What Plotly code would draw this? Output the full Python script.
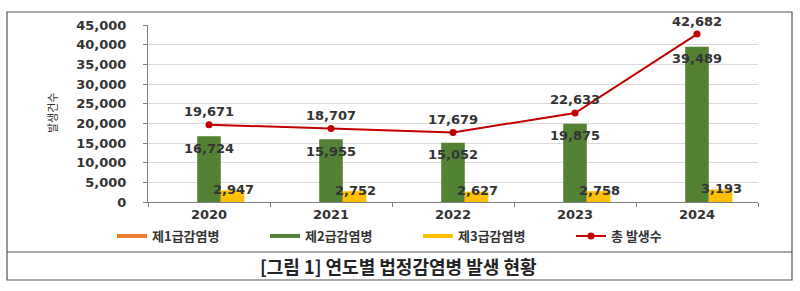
import plotly.graph_objects as go

years = ["2020", "2021", "2022", "2023", "2024"]
class1 = [0, 0, 0, 0, 0]
class2 = [16724, 15955, 15052, 19875, 39489]
class3 = [2947, 2752, 2627, 2758, 3193]
total = [19671, 18707, 17679, 22633, 42682]
series_names = ["제1급감염병", "제2급감염병", "제3급감염병", "총 발생수"]
y_title = "발생건수"
caption = "[그림 1] 연도별 법정감염병 발생 현황"
y_ticks = [0, 5000, 10000, 15000, 20000, 25000, 30000, 35000, 40000, 45000]

C_ORANGE = "#ED7D31"
C_GREEN = "#548235"
C_YELLOW = "#FFC000"
C_RED = "#C00000"
TXT = "#333333"
NUM_FONT = dict(family="DejaVu Sans", size=13, color=TXT, weight="bold")
KR = "Noto Sans CJK KR"

W, H = 800, 291
L, R, T, B = 148, 42, 25, 89
ph = H - T - B
pw = W - L - R


def px(xp):
    return (xp - L) / pw


def py(yp):
    return (H - B - yp) / ph


fig = go.Figure()
for name, vals, col in [(series_names[0], class1, C_ORANGE),
                        (series_names[1], class2, C_GREEN),
                        (series_names[2], class3, C_YELLOW)]:
    fig.add_trace(go.Bar(x=years, y=vals, marker=dict(color=col, line=dict(width=0)),
                         name=name, showlegend=False))
fig.add_trace(go.Scatter(x=years, y=total, mode="lines+markers", name=series_names[3],
                         line=dict(color=C_RED, width=2), marker=dict(color=C_RED, size=7),
                         showlegend=False))

# legend entries (line-style swatches like the original)
for name, col, mode in [(series_names[0], C_ORANGE, "lines"),
                        (series_names[1], C_GREEN, "lines"),
                        (series_names[2], C_YELLOW, "lines"),
                        (series_names[3], C_RED, "lines+markers")]:
    fig.add_trace(go.Scatter(x=[years[0]], y=[None], mode=mode, name=name,
                             line=dict(color=col, width=4 if mode == "lines" else 2),
                             marker=dict(color=col, size=7), showlegend=True))

ann = []
for i, v in enumerate(class2):
    ann.append(dict(x=i, y=v, text=f"{v:,}", showarrow=False, yshift=-12,
                    xref="x", yref="y", font=NUM_FONT))
for i, v in enumerate(class3):
    ann.append(dict(x=i, y=v, text=f"{v:,}", showarrow=False, xshift=24, yshift=1,
                    xref="x", yref="y", font=NUM_FONT))
for i, v in enumerate(total):
    ann.append(dict(x=i, y=v, text=f"{v:,}", showarrow=False, yshift=13,
                    xref="x", yref="y", font=NUM_FONT))
ann.append(dict(x=px(52), y=py(113), xref="paper", yref="paper", yanchor="middle",
                xanchor="center", text=y_title, textangle=-90, showarrow=False,
                font=dict(family=KR, size=11, color=TXT)))
ann.append(dict(x=px(398), y=py(266), xref="paper", yref="paper", xanchor="center",
                yanchor="middle", text=caption, showarrow=False,
                font=dict(family=KR, size=18, color="#222222", weight="bold")))

shapes = [
    dict(type="rect", xref="paper", yref="paper", x0=px(7), x1=px(792), y0=py(280), y1=py(12),
         line=dict(color="#555555", width=1.2), fillcolor="rgba(0,0,0,0)", layer="below"),
    dict(type="line", xref="paper", yref="paper", x0=px(7), x1=px(792), y0=py(252), y1=py(252),
         line=dict(color="#555555", width=1.2)),
]

fig.update_layout(
    width=W, height=H,
    margin=dict(l=L, r=R, t=T, b=B, autoexpand=False),
    paper_bgcolor="white", plot_bgcolor="white",
    barmode="group", bargap=0.42, bargroupgap=0,
    annotations=ann, shapes=shapes,
    showlegend=True,
    legend=dict(orientation="h", x=px(112), y=py(236), xanchor="left", yanchor="middle",
                font=dict(family=KR, size=13, color=TXT, weight="bold"),
                entrywidth=108, entrywidthmode="pixels", itemwidth=30,
                bgcolor="rgba(0,0,0,0)"),
    xaxis=dict(type="category", categoryorder="array", categoryarray=years,
               range=[-0.5, len(years) - 0.5], showgrid=False, showline=True,
               linecolor="#7f7f7f", linewidth=1,
               ticks="outside", ticklen=4, tickcolor="#7f7f7f", tickson="boundaries",
               tickfont=NUM_FONT, tickangle=0, fixedrange=True),
    yaxis=dict(range=[0, 45000], tickvals=y_ticks, tickformat=",", showgrid=True,
               gridcolor="#d9d9d9", gridwidth=1, showline=True, linecolor="#7f7f7f",
               ticks="outside", ticklen=4, tickcolor="#7f7f7f", ticklabelstandoff=14,
               tickfont=NUM_FONT, zeroline=False, fixedrange=True),
)

fig.write_html("out.html")
